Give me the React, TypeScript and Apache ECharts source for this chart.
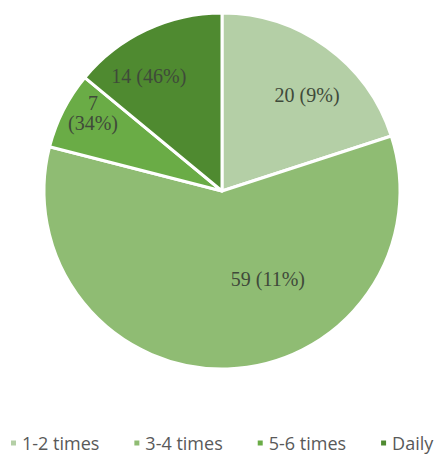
import React, { useEffect, useRef } from "react";
import * as echarts from "echarts";

const categories = ["1-2 times", "3-4 times", "5-6 times", "Daily"];
const values = [20, 59, 7, 14];
const percentLabels = ["9%", "11%", "34%", "46%"];
const colors = ["#b4cfa6", "#8fbc73", "#6aac46", "#4f8a30"];
const labelOffsets: [number, number][] = [
  [31, -22],
  [43, -4],
  [-47, -36],
  [-34, -32],
];

export default function App() {
  const ref = useRef<HTMLDivElement>(null);
  useEffect(() => {
    if (!ref.current) return;
    const chart = echarts.init(ref.current, null, { renderer: "svg" });
    chart.setOption({
      animation: false,
      backgroundColor: "#ffffff",
      legend: {
        data: categories,
        left: 4,
        top: 429,
        width: 1200,
        orient: "horizontal",
        icon: "rect",
        itemWidth: 7,
        itemHeight: 7,
        itemGap: 33,
        textStyle: {
          fontFamily: "Open Sans",
          fontSize: 18,
          color: "#595959",
        },
      },
      series: [
        {
          type: "pie",
          center: [222, 191],
          radius: [0, 178],
          startAngle: 90,
          clockwise: true,
          avoidLabelOverlap: false,
          itemStyle: { borderColor: "#ffffff", borderWidth: 3 },
          label: {
            show: true,
            position: "inside",
            fontFamily: "Liberation Serif",
            fontSize: 20,
            color: "#3f4a3a",
            lineHeight: 20,
            formatter: (p: any) =>
              p.dataIndex === 2
                ? `${p.value}\n(${percentLabels[p.dataIndex]})`
                : `${p.value} (${percentLabels[p.dataIndex]})`,
          },
          labelLine: { show: false },
          labelLayout: (params: any) => ({
            dx: labelOffsets[params.dataIndex][0],
            dy: labelOffsets[params.dataIndex][1],
          }),
          emphasis: { disabled: true },
          data: categories.map((c, i) => ({
            name: c,
            value: values[i],
            itemStyle: { color: colors[i] },
          })),
        },
      ],
    });
    return () => chart.dispose();
  }, []);
  return (
    <div
      ref={ref}
      style={{ position: "fixed", left: 0, top: 0, width: 441, height: 456 }}
    />
  );
}
